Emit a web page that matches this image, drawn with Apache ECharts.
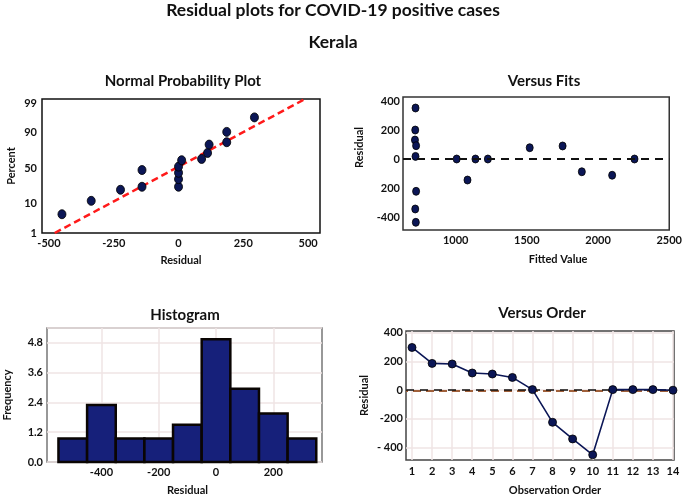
<!DOCTYPE html>
<html>
<head>
<meta charset="utf-8">
<script src="https://cdn.jsdelivr.net/npm/echarts@6/dist/echarts.min.js"></script>
<style>
html,body{margin:0;padding:0;background:#fff;}
#c{width:685px;height:497px;}
</style>
</head>
<body>
<div id="c"></div>
<script>
// ---------- data ----------
// Normal probability plot: residual vs percent
const nppResidual = [-450, -337, -224, -141, -141, 0, 0, 0, 0, 12, 89, 112, 118, 186, 186, 293];
const nppPercent  = [4.9, 12.0, 21.8, 25.1, 47.1, 25.1, 34.5, 43.2, 52.0, 61.0, 62.7, 70.5, 79.9, 82.2, 90.2, 96.5];
const fitLineResidual = [-478, 486];
const fitLinePercent  = [1, 99.3];
const nppPercentTicks = [1, 10, 50, 90, 99];
const nppResidualTicks = [-500, -250, 0, 250, 500];

// Versus fits
const fitsFitted   = [718, 716, 714, 722, 718, 722, 716, 720, 1007, 1083, 1139, 1226, 1520, 1751, 1886, 2099, 2256];
const fitsResidual = [352, 200, 131, 92, 18, -223, -345, -437, 0, -145, 0, 0, 78, 90, -88, -112, 0];
const fitsXTicks = [1000, 1500, 2000, 2500];
const fitsYTicks = [-400, -200, 0, 200, 400];
const fitsYTickLabels = ['-400', '200', '0', '200', '400'];

// Histogram
const histBinCenters = [-500, -400, -300, -200, -100, 0, 100, 200, 300];
const histFrequency  = [0.95, 2.3, 0.95, 0.95, 1.5, 4.95, 2.95, 1.95, 0.95];
const histBinWidth = 100;
const histXTicks = [-400, -200, 0, 200];

// Versus order
const orderObs      = [1, 2, 3, 4, 5, 6, 7, 8, 9, 10, 11, 12, 13, 14];
const orderResidual = [298, 187, 183, 120, 113, 89, 4, -224, -340, -451, 4, 4, 4, 0];
const orderYTicks = [-400, -200, 0, 200, 400];
const orderYTickLabels = ['- 400', '-200', '0', '200', '400'];

// ---------- helpers ----------
// inverse standard normal CDF (Acklam) – used as the probability-axis transform
function probit(p) {
  const a = [-3.969683028665376e+01, 2.209460984245205e+02, -2.759285104469687e+02, 1.383577518672690e+02, -3.066479806614716e+01, 2.506628277459239e+00];
  const b = [-5.447609879822406e+01, 1.615858368580409e+02, -1.556989798598866e+02, 6.680131188771972e+01, -1.328068155288572e+01];
  const c = [-7.784894002430293e-03, -3.223964580411365e-01, -2.400758277161838e+00, -2.549732539343734e+00, 4.374664141464968e+00, 2.938163982698783e+00];
  const d = [7.784695709041462e-03, 3.224671290700398e-01, 2.445134137142996e+00, 3.754408661907416e+00];
  const pl = 0.02425, ph = 1 - pl;
  let q, r;
  if (p < pl) { q = Math.sqrt(-2 * Math.log(p)); return (((((c[0]*q+c[1])*q+c[2])*q+c[3])*q+c[4])*q+c[5]) / ((((d[0]*q+d[1])*q+d[2])*q+d[3])*q+1); }
  if (p <= ph) { q = p - 0.5; r = q*q; return (((((a[0]*r+a[1])*r+a[2])*r+a[3])*r+a[4])*r+a[5])*q / (((((b[0]*r+b[1])*r+b[2])*r+b[3])*r+b[4])*r+1); }
  q = Math.sqrt(-2 * Math.log(1 - p)); return -(((((c[0]*q+c[1])*q+c[2])*q+c[3])*q+c[4])*q+c[5]) / ((((d[0]*q+d[1])*q+d[2])*q+d[3])*q+1);
}
const z = pct => probit(pct / 100);
function labelFor(ticks, labels) {
  return v => { let bi = 0; ticks.forEach((t, i) => { if (Math.abs(t - v) < Math.abs(ticks[bi] - v)) bi = i; }); return labels[bi]; };
}

const FONT = 'Lato, "Open Sans", sans-serif';
const TXT = '#111';
const NAVY = '#0b1656';
const tickLbl = { fontFamily: FONT, fontWeight: 'bold', fontSize: 11, color: TXT };
const nameStyle = { fontFamily: FONT, fontWeight: 'bold', fontSize: 11, color: TXT };
const titleStyle = { fontFamily: FONT, fontWeight: 'bold', fontSize: 15, color: TXT };
const GRIDC = '#efe5e5';
const dotStyle = { color: NAVY, borderColor: '#000', borderWidth: 0.8, opacity: 1 };

const chart = echarts.init(document.getElementById('c'), null, { renderer: 'canvas' });

const option = {
  animation: false,
  backgroundColor: '#fff',
  title: [
    { text: 'Residual plots for COVID-19 positive cases', left: 333, textAlign: 'center', top: 1, padding: 0, textStyle: { fontFamily: FONT, fontWeight: 'bold', fontSize: 17.5, color: TXT } },
    { text: 'Kerala', left: 333, textAlign: 'center', top: 33, padding: 0, textStyle: { fontFamily: FONT, fontWeight: 'bold', fontSize: 17.5, color: TXT } },
    { text: 'Normal Probability Plot', left: 183, top: 74, padding: 0, textAlign: 'center', textStyle: titleStyle },
    { text: 'Versus Fits', left: 544, top: 74, padding: 0, textAlign: 'center', textStyle: titleStyle },
    { text: 'Histogram', left: 185, top: 308, padding: 0, textAlign: 'center', textStyle: titleStyle },
    { text: 'Versus Order', left: 542, top: 306, padding: 0, textAlign: 'center', textStyle: titleStyle }
  ],
  grid: [
    { left: 42, top: 99, width: 278, height: 134, show: true, borderColor: '#111', borderWidth: 1.5 },
    { left: 403, top: 97, width: 270, height: 133, show: true, borderColor: '#333', borderWidth: 1.5 },
    { left: 47, top: 328, width: 275, height: 138, show: true, borderColor: '#777', borderWidth: 1.5 },
    { left: 406, top: 331, width: 268, height: 135, show: true, borderColor: '#444', borderWidth: 1.5 }
  ],
  xAxis: [
    { gridIndex: 0, type: 'value', min: -527, max: 546,
      name: 'Residual', nameLocation: 'middle', nameGap: 22, nameTextStyle: nameStyle,
      axisLine: { show: false }, axisTick: { show: false, customValues: nppResidualTicks }, splitLine: { show: false },
      axisLabel: { ...tickLbl, margin: 5, customValues: nppResidualTicks, formatter: v => String(v) } },
    { gridIndex: 1, type: 'value', min: 630, max: 2500,
      name: 'Fitted Value', nameLocation: 'middle', nameGap: 24, nameTextStyle: { ...nameStyle, padding: [0, 0, 0, 44] },
      axisLine: { show: false }, axisTick: { show: false, customValues: fitsXTicks }, splitLine: { show: false },
      axisLabel: { ...tickLbl, margin: 5, customValues: fitsXTicks, formatter: v => String(v) } },
    { gridIndex: 2, type: 'value', min: -590, max: 370,
      name: 'Residual', nameLocation: 'middle', nameGap: 23, nameTextStyle: { ...nameStyle, padding: [0, 0, 0, 6] },
      axisLine: { show: false }, axisTick: { show: false, customValues: histXTicks },
      splitLine: { show: true, lineStyle: { color: GRIDC, width: 1.5 } },
      axisLabel: { ...tickLbl, margin: 5, customValues: histXTicks, formatter: v => String(v) } },
    { gridIndex: 3, type: 'value', min: 0.7, max: 14.05,
      name: 'Observation Order', nameLocation: 'middle', nameGap: 25, nameTextStyle: { ...nameStyle, padding: [0, 0, 0, 30] },
      axisLine: { show: false }, axisTick: { show: false, customValues: orderObs },
      splitLine: { show: true, lineStyle: { color: GRIDC, width: 1.5 } },
      axisLabel: { ...tickLbl, margin: 6, customValues: orderObs, formatter: v => String(v) } }
  ],
  yAxis: [
    { gridIndex: 0, type: 'value', min: z(1), max: 2.47,
      name: 'Percent', nameLocation: 'middle', nameGap: 25, nameTextStyle: nameStyle,
      axisLine: { show: false }, axisTick: { show: false, customValues: nppPercentTicks.map(z) }, splitLine: { show: false },
      axisLabel: { ...tickLbl, margin: 5, customValues: nppPercentTicks.map(z), formatter: labelFor(nppPercentTicks.map(z), nppPercentTicks.map(String)) } },
    { gridIndex: 1, type: 'value', min: -490, max: 428,
      name: 'Residual', nameLocation: 'middle', nameGap: 38, nameTextStyle: { ...nameStyle, padding: [0, 0, 0, 32] },
      axisLine: { show: false }, axisTick: { show: false, customValues: fitsYTicks }, splitLine: { show: false },
      axisLabel: { ...tickLbl, margin: 3, customValues: fitsYTicks, formatter: labelFor(fitsYTicks, fitsYTickLabels) } },
    { gridIndex: 2, type: 'value', min: 0, max: 5.4, interval: 1.2,
      name: 'Frequency', nameLocation: 'middle', nameGap: 34, nameTextStyle: nameStyle,
      axisLine: { show: false }, axisTick: { show: false },
      splitLine: { show: true, lineStyle: { color: GRIDC, width: 1.5 } },
      axisLabel: { ...tickLbl, margin: 4, showMaxLabel: false, formatter: v => v.toFixed(1) } },
    { gridIndex: 3, type: 'value', min: -487, max: 413,
      name: 'Residual', nameLocation: 'middle', nameGap: 36, nameTextStyle: nameStyle,
      axisLine: { show: false }, axisTick: { show: false, customValues: orderYTicks },
      splitLine: { show: true, lineStyle: { color: GRIDC, width: 1.5 } },
      axisLabel: { ...tickLbl, margin: 3, customValues: orderYTicks, formatter: labelFor(orderYTicks, orderYTickLabels) } }
  ],
  series: [
    { type: 'line', xAxisIndex: 0, yAxisIndex: 0, data: fitLineResidual.map((x, i) => [x, z(fitLinePercent[i])]),
      symbol: 'none', clip: true, z: 3, lineStyle: { color: '#ff1a1a', width: 2.5, type: [7, 4] } },
    { type: 'scatter', xAxisIndex: 0, yAxisIndex: 0, data: nppResidual.map((x, i) => [x, z(nppPercent[i])]),
      symbol: 'circle', symbolSize: [8, 9], z: 4, itemStyle: dotStyle },

    { type: 'scatter', xAxisIndex: 1, yAxisIndex: 1, data: fitsFitted.map((x, i) => [x, fitsResidual[i]]),
      symbol: 'circle', symbolSize: [7, 8], z: 4, itemStyle: dotStyle,
      markLine: { silent: true, symbol: 'none', label: { show: false }, lineStyle: { color: '#111', width: 2, type: [8, 6] }, data: [{ yAxis: 0 }] } },

    { type: 'custom', xAxisIndex: 2, yAxisIndex: 2, data: histBinCenters.map((c, i) => [c, histFrequency[i]]),
      renderItem: (params, api) => {
        const c = api.value(0), h = api.value(1);
        const p0 = api.coord([c - histBinWidth / 2, h]);
        const p1 = api.coord([c + histBinWidth / 2, 0]);
        return { type: 'rect', shape: { x: p0[0], y: p0[1], width: p1[0] - p0[0], height: p1[1] - p0[1] },
          style: { fill: '#16207a', stroke: '#0a0503', lineWidth: 2.5 } };
      } },

    { type: 'line', xAxisIndex: 3, yAxisIndex: 3, data: orderObs.map((x, i) => [x, orderResidual[i]]),
      symbol: 'circle', symbolSize: 8, z: 4, lineStyle: { color: NAVY, width: 1.6 },
      itemStyle: dotStyle,
      markLine: { silent: true, symbol: 'none', label: { show: false }, z: 2,
        data: [
          { yAxis: -6, lineStyle: { color: '#a0603a', width: 2, type: [8, 5], dashOffset: 6 } },
          { yAxis: 0, lineStyle: { color: '#111', width: 1.6, type: [8, 6] } }
        ] } }
  ]
};
chart.setOption(option);
</script>
</body>
</html>
